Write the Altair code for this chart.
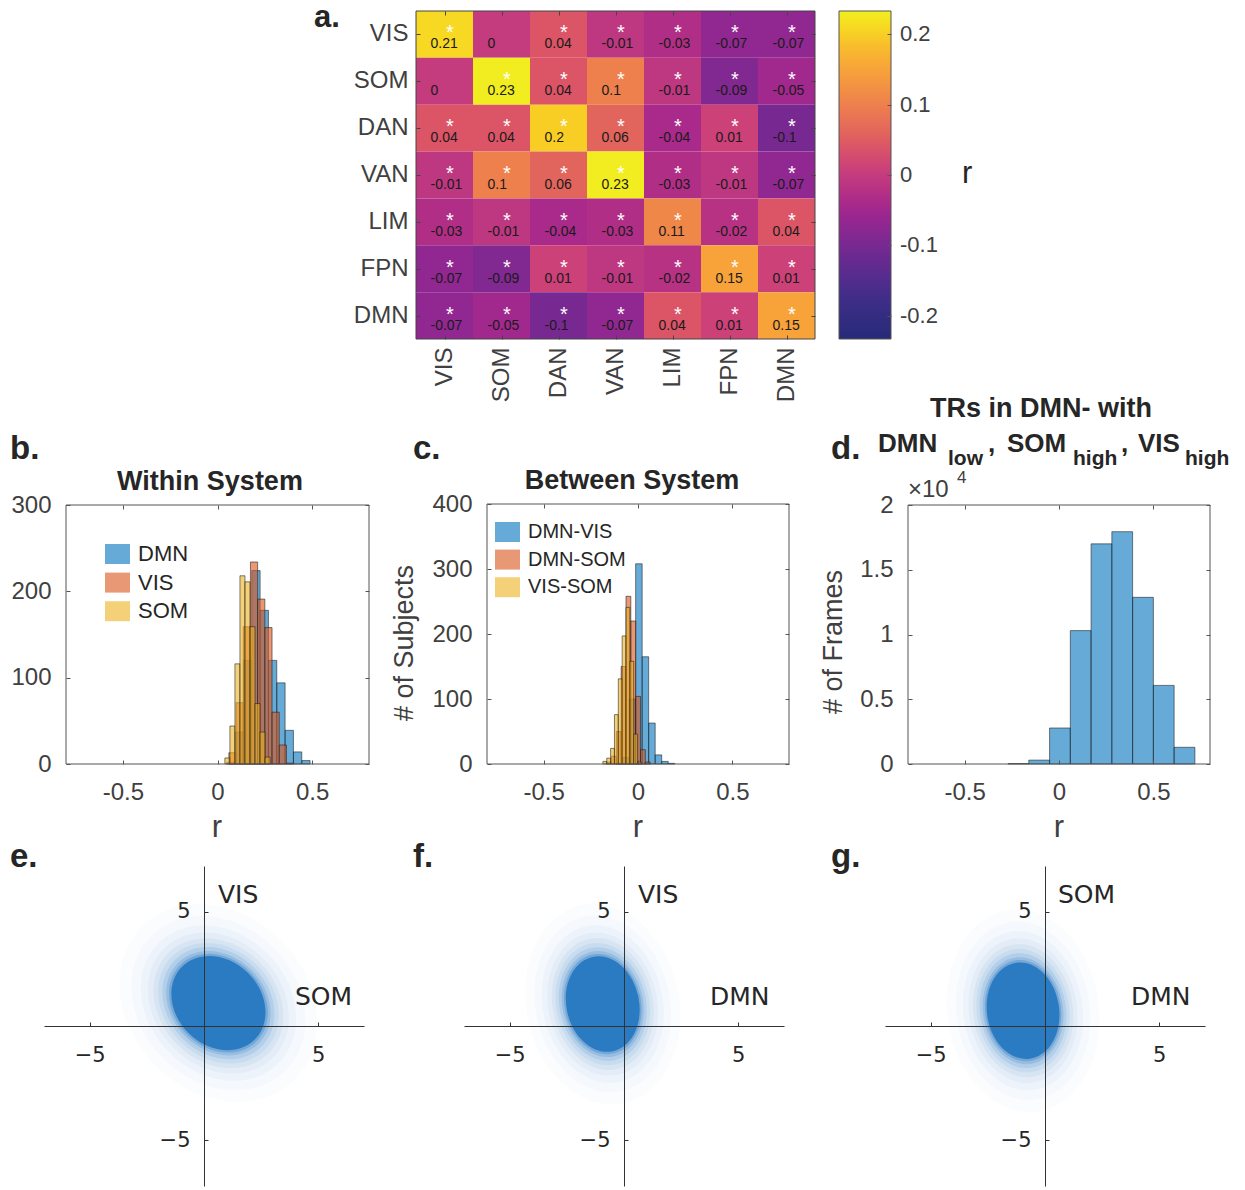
import altair as alt
import pandas as pd

W, H = 1245, 1190
FONT = "Liberation Sans"
SFONT = "DejaVu Sans"
TICK = "#404040"
INK = "#262626"

# ---------------- data ----------------
networks = ["VIS", "SOM", "DAN", "VAN", "LIM", "FPN", "DMN"]
corr_rows = [
    [0.21, 0.00, 0.04, -0.01, -0.03, -0.07, -0.07],
    [0.00, 0.23, 0.04, 0.10, -0.01, -0.09, -0.05],
    [0.04, 0.04, 0.20, 0.06, -0.04, 0.01, -0.10],
    [-0.01, 0.10, 0.06, 0.23, -0.03, -0.01, -0.07],
    [-0.03, -0.01, -0.04, -0.03, 0.11, -0.02, 0.04],
    [-0.07, -0.09, 0.01, -0.01, -0.02, 0.15, 0.01],
    [-0.07, -0.05, -0.10, -0.07, 0.04, 0.01, 0.15],
]
star_rows = [
    [1, 0, 1, 1, 1, 1, 1],
    [0, 1, 1, 1, 1, 1, 1],
    [1, 1, 1, 1, 1, 1, 1],
    [1, 1, 1, 1, 1, 1, 1],
    [1, 1, 1, 1, 1, 1, 1],
    [1, 1, 1, 1, 1, 1, 1],
    [1, 1, 1, 1, 1, 1, 1],
]
colorbar_ticks = [-0.2, -0.1, 0, 0.1, 0.2]
colorbar_limit = 0.2333
cmap_stops = [-0.2333, -0.175, -0.1167, -0.0583, 0.0, 0.0583, 0.1167, 0.175, 0.2333]
cmap_colors = ["#262a78", "#3f2d88", "#6a2a90", "#9a2690", "#c43c7e",
               "#e0645e", "#f08c46", "#f8b530", "#f0f021"]

within_names = ["DMN", "VIS", "SOM"]
within_start = [0.049, 0.060, 0.039]
within_width = [0.044, 0.038, 0.0265]
within_counts = [
    [2, 37, 120, 224, 178, 120, 94, 39, 14, 4],
    [13, 71, 159, 234, 191, 158, 60, 22, 1],
    [7, 44, 116, 218, 211, 159, 70, 37, 8],
]

between_names = ["DMN-VIS", "DMN-SOM", "VIS-SOM"]
between_start = [-0.116, -0.166, -0.186]
between_width = [0.0345, 0.0256, 0.0204]
between_counts = [
    [1, 10, 100, 308, 165, 63, 14, 4, 1],
    [3, 12, 50, 150, 258, 220, 104, 22, 3],
    [4, 9, 24, 76, 131, 197, 241, 158, 46, 3],
]

frames_start = -0.27
frames_width = 0.11
frames_counts = [30, 300, 2780, 10300, 17000, 17940, 12870, 6070, 1290]

# scatter clouds: centre (x, y), semi-axes (a, b), tilt in degrees
cloud_cx = [0.63, -0.93, -0.96]
cloud_cy = [1.00, 0.96, 0.67]
cloud_a = [2.25, 2.11, 2.12]
cloud_b = [1.85, 1.59, 1.58]
cloud_tilt = [45, 78, 82]
cloud_xname = ["SOM", "DMN", "DMN"]
cloud_yname = ["VIS", "VIS", "SOM"]
halo_scale = [2.1, 1.85, 1.65, 1.5, 1.38, 1.28, 1.19, 1.11, 1.05, 1.0]
halo_alpha = [0.02, 0.026, 0.037, 0.044, 0.068, 0.085, 0.133, 0.2, 0.327, 1.0]

MAT_COLORS = ["#0072BD", "#D95319", "#EDB120"]

# ---------------- helpers ----------------
one = pd.DataFrame({"k": [0]})


def txt(s, x, y, size=24, weight="normal", align="left", baseline="alphabetic",
        angle=0, color=INK, font=FONT):
    return alt.Chart(one).mark_text(
        text=s, fontSize=size, fontWeight=weight, align=align, baseline=baseline,
        angle=angle, color=color, font=font,
    ).encode(x=alt.value(x), y=alt.value(y))


def tick_axis(orient, offset, values, color):
    return alt.Axis(orient=orient, offset=offset, values=values, labels=False, domain=False,
                    ticks=True, tickSize=4, tickColor=color, grid=False, title=None, zindex=1)


def frame(xr, yr, xdom, ydom, xt, yt, color="#555555"):
    fd = pd.DataFrame({"x0": [xdom[0]], "x1": [xdom[1]], "y0": [ydom[0]], "y1": [ydom[1]]})
    xs = alt.Scale(domain=xdom, range=xr, nice=False, zero=False)
    ys = alt.Scale(domain=ydom, range=yr, nice=False, zero=False)
    box = alt.Chart(fd).mark_rect(filled=False, color=color, strokeWidth=1).encode(
        x=alt.X("x0:Q", scale=xs, axis=tick_axis("top", -yr[0], xt, color)),
        x2="x1:Q",
        y=alt.Y("y0:Q", scale=ys, axis=tick_axis("right", xr[0] - W, yt, color)),
        y2="y1:Q",
    )
    ghost = alt.Chart(fd).mark_rect(opacity=0).encode(
        x=alt.X("x0:Q", scale=xs, axis=tick_axis("bottom", yr[1] - H, xt, color)),
        x2="x1:Q",
        y=alt.Y("y0:Q", scale=ys, axis=tick_axis("left", -xr[1], yt, color)),
        y2="y1:Q",
    )
    return [box, ghost]


def bins_df(names, starts, widths, counts):
    rows = []
    for n, s, w, cs in zip(names, starts, widths, counts):
        for k, c in enumerate(cs):
            rows.append({"series": n, "x0": s + k * w, "x1": s + (k + 1) * w, "count": c})
    return pd.DataFrame(rows)


def hist(df, xr, yr, ymax, yvals, ylab_expr="toString(datum.value)", color=None):
    x = alt.X("x0:Q", scale=alt.Scale(domain=[-0.8, 0.8], range=xr, nice=False, zero=False),
              axis=alt.Axis(orient="bottom", offset=yr[0] - H, values=[-0.5, 0, 0.5],
                            labelExpr="toString(datum.value)", domain=False, ticks=False,
                            tickSize=0, grid=False, labelFontSize=24, labelFont=FONT,
                            labelColor=TICK, labelPadding=16, labelFlush=False, title=None))
    y = alt.Y("count:Q", scale=alt.Scale(domain=[0, ymax], range=yr, nice=False, zero=True),
              axis=alt.Axis(orient="left", offset=-xr[0], values=yvals, labelExpr=ylab_expr,
                            domain=False, ticks=False, tickSize=0, grid=False,
                            labelFontSize=24, labelFont=FONT, labelColor=TICK,
                            labelPadding=15, labelFlush=False, title=None))
    enc = dict(x=x, x2="x1:Q", y=y, y2=alt.datum(0))
    if color is not None:
        enc["color"] = color
        mark = alt.Chart(df).mark_rect(fillOpacity=0.6, stroke="#1a1a1a", strokeOpacity=0.55,
                                       strokeWidth=1)
    else:
        mark = alt.Chart(df).mark_rect(fillOpacity=0.6, fill=MAT_COLORS[0], stroke="#1a1a1a",
                                       strokeOpacity=0.55, strokeWidth=1)
    return mark.encode(**enc)


RECT_PATH = "M-1,-0.8H1V0.8H-1Z"


def legend(x, y, size):
    return alt.Legend(orient="none", legendX=x, legendY=y, title=None, direction="vertical",
                      symbolType=RECT_PATH, symbolSize=625, symbolOpacity=0.6,
                      symbolStrokeWidth=0, labelFontSize=size, labelFont=FONT,
                      labelColor=INK, labelOffset=8, rowPadding=4.6, padding=0)


def ellipse_path(r):
    c = 0.5523
    return (f"M1,0 C1,{c*r:.4f} {c:.4f},{r:.4f} 0,{r:.4f} "
            f"C{-c:.4f},{r:.4f} -1,{c*r:.4f} -1,0 "
            f"C-1,{-c*r:.4f} {-c:.4f},{-r:.4f} 0,{-r:.4f} "
            f"C{c:.4f},{-r:.4f} 1,{-c*r:.4f} 1,0 Z")


def scatter(i, xr, yr=(1186, 866)):
    ppu = (xr[1] - xr[0]) / 14.0
    rows = []
    for s, op in zip(halo_scale, halo_alpha):
        rows.append({"cx": cloud_cx[i], "cy": cloud_cy[i],
                     "sz": (2 * cloud_a[i] * s * ppu) ** 2, "op": op})
    df = pd.DataFrame(rows)
    x0 = (xr[0] + xr[1]) / 2
    y0 = (yr[0] + yr[1]) / 2
    xs = alt.Scale(domain=[-7, 7], range=list(xr), nice=False, zero=False)
    ys = alt.Scale(domain=[-7, 7], range=list(yr), nice=False, zero=False)
    xa = alt.Axis(orient="bottom", offset=y0 - H, values=[-5, 5], domain=True,
                  domainColor="#333333", ticks=False, tickSize=0,
                  grid=False, labelFontSize=21, labelFont=SFONT, labelColor=INK,
                  labelPadding=18, labelFlush=False, title=None, zindex=1)
    ya = alt.Axis(orient="left", offset=-x0, values=[-5, 5], domain=True,
                  domainColor="#333333", ticks=False, tickSize=0,
                  grid=False, labelFontSize=21, labelFont=SFONT, labelColor=INK,
                  labelPadding=14, labelFlush=False, title=None, zindex=1)
    cloud = alt.Chart(df).mark_point(
        filled=True, shape=ellipse_path(cloud_b[i] / cloud_a[i]), angle=cloud_tilt[i],
        color="#2a7bc1", strokeWidth=0,
    ).encode(
        x=alt.X("cx:Q", scale=xs, axis=xa),
        y=alt.Y("cy:Q", scale=ys, axis=ya),
        size=alt.Size("sz:Q", scale=None),
        opacity=alt.Opacity("op:Q", scale=None),
    )
    ticks = alt.Chart(df).mark_point(opacity=0).encode(
        x=alt.X("cx:Q", scale=xs, axis=tick_axis("top", -y0, [-5, 5], "#333333")),
        y=alt.Y("cy:Q", scale=ys, axis=tick_axis("right", x0 - W, [-5, 5], "#333333")),
    )
    return [cloud, ticks]


# ---------------- panel a: heatmap ----------------
hm = []
for i, r in enumerate(networks):
    for j, c in enumerate(networks):
        v = corr_rows[i][j]
        hm.append({"row": r, "col": c, "v": v, "lab": f"{v:g}",
                   "star": "*" if star_rows[i][j] else ""})
hm_df = pd.DataFrame(hm)

hx = alt.X("col:N", scale=alt.Scale(domain=networks, range=[416, 815], paddingInner=0, paddingOuter=0),
           axis=alt.Axis(orient="bottom", offset=339 - H, labelAngle=270, labelFontSize=24,
                         labelFont=FONT, labelColor=TICK, labelPadding=8, ticks=False,
                         tickSize=0, domain=False, title=None))
hy = alt.Y("row:N", scale=alt.Scale(domain=networks, range=[11, 339], paddingInner=0, paddingOuter=0),
           axis=alt.Axis(orient="left", offset=-416, labelFontSize=24, labelFont=FONT,
                         labelColor=TICK, labelPadding=8, ticks=False, tickSize=0,
                         domain=False, title=None))
cells = alt.Chart(hm_df).mark_rect().encode(
    x=hx, y=hy,
    color=alt.Color("v:Q", scale=alt.Scale(domain=cmap_stops, range=cmap_colors),
                    legend=alt.Legend(orient="none", legendX=839, legendY=11, direction="vertical",
                                      gradientLength=328, gradientThickness=52, title=None,
                                      values=colorbar_ticks, labelExpr="toString(datum.value)",
                                      labelFontSize=22, labelFont=FONT, labelColor=TICK,
                                      labelOffset=9, gradientStrokeColor="#555555",
                                      gradientStrokeWidth=1, padding=0)),
)
stars = alt.Chart(hm_df).mark_text(color="white", fontSize=20, dx=5.5, dy=-1, font=FONT,
                                   baseline="middle").encode(x=hx, y=hy, text="star:N")
nums = alt.Chart(hm_df).mark_text(color="#1a1a1a", fontSize=14, dx=-14, dy=10, align="left",
                                  baseline="middle", font=FONT).encode(x=hx, y=hy, text="lab:N")
heat = alt.layer(cells, stars, nums)

# colour bar tick marks (inside right edge)
cb_df = pd.DataFrame({"y0": [-colorbar_limit], "y1": [colorbar_limit]})
cb_ticks = alt.Chart(cb_df).mark_rect(opacity=0).encode(
    y=alt.Y("y0:Q", scale=alt.Scale(domain=[-colorbar_limit, colorbar_limit], range=[339, 11],
                                    nice=False, zero=False),
            axis=tick_axis("left", -891, colorbar_ticks, "#555555")),
    y2="y1:Q",
    x=alt.value(839), x2=alt.value(891),
)

# ---------------- panels b, c, d ----------------
b_df = bins_df(within_names, within_start, within_width, within_counts)
c_df = bins_df(between_names, between_start, between_width, between_counts)
d_df = bins_df(["frames"], [frames_start], [frames_width], [frames_counts])

b_chart = hist(b_df, [66, 369], [764, 505], 300, [0, 100, 200, 300],
               color=alt.Color("series:N", scale=alt.Scale(domain=within_names, range=MAT_COLORS),
                               legend=legend(105, 541.5, 22)))
c_chart = hist(c_df, [487, 789], [764, 504], 400, [0, 100, 200, 300, 400],
               color=alt.Color("series:N", scale=alt.Scale(domain=between_names, range=MAT_COLORS),
                               legend=legend(495, 519.5, 20)))
d_chart = hist(d_df, [908, 1210], [764, 505], 20000, [0, 5000, 10000, 15000, 20000],
               ylab_expr="toString(datum.value / 10000)")

hx_ticks = [0.5, 1.5, 2.5, 3.5, 4.5, 5.5, 6.5]

texts = [
    txt("a.", 314, 27, size=31, weight="bold"),
    txt("b.", 10, 459, size=33, weight="bold"),
    txt("c.", 413, 459, size=33, weight="bold"),
    txt("d.", 831, 459, size=33, weight="bold"),
    txt("e.", 10, 867, size=33, weight="bold"),
    txt("f.", 413, 867, size=33, weight="bold"),
    txt("g.", 831, 867, size=33, weight="bold"),
    txt("r", 962, 183, size=31, color=INK),
    txt("Within System", 210, 490, size=27, weight="bold", align="center"),
    txt("Between System", 632, 489, size=27, weight="bold", align="center"),
    txt("TRs in DMN- with", 1041, 417, size=27, weight="bold", align="center"),
    txt("DMN", 878, 452, size=26, weight="bold"),
    txt("low", 948, 465, size=21, weight="bold"),
    txt(",", 988, 452, size=26, weight="bold"),
    txt("SOM", 1007, 452, size=26, weight="bold"),
    txt("high", 1073, 465, size=21, weight="bold"),
    txt(",", 1121, 452, size=26, weight="bold"),
    txt("VIS", 1138, 452, size=26, weight="bold"),
    txt("high", 1185, 465, size=21, weight="bold"),
    txt("\u00d710", 908, 497, size=24, color=TICK),
    txt("4", 957, 483, size=17, color=TICK),
    txt("r", 217, 837, size=31, align="center", color=TICK),
    txt("r", 638, 837, size=31, align="center", color=TICK),
    txt("r", 1059, 837, size=31, align="center", color=TICK),
    txt("# of Subjects", 405, 643, size=27, align="center", baseline="middle", angle=270, color=TICK),
    txt("# of Frames", 834, 642, size=27, align="center", baseline="middle", angle=270, color=TICK),
    txt(cloud_yname[0], 218, 903, size=25, font=SFONT),
    txt(cloud_xname[0], 295, 1005, size=25, font=SFONT),
    txt(cloud_yname[1], 638, 903, size=25, font=SFONT),
    txt(cloud_xname[1], 710, 1005, size=25, font=SFONT),
    txt(cloud_yname[2], 1058, 903, size=25, font=SFONT),
    txt(cloud_xname[2], 1131, 1005, size=25, font=SFONT),
]

layers = (
    [heat]
    + frame([416, 815], [339, 11], [0, 7], [0, 7], hx_ticks, hx_ticks, "#444444")
    + [cb_ticks]
    + [b_chart] + frame([66, 369], [764, 505], [-0.8, 0.8], [0, 300], [-0.5, 0, 0.5], [0, 100, 200, 300])
    + [c_chart] + frame([487, 789], [764, 504], [-0.8, 0.8], [0, 400], [-0.5, 0, 0.5], [0, 100, 200, 300, 400])
    + [d_chart] + frame([908, 1210], [764, 505], [-0.8, 0.8], [0, 20000], [-0.5, 0, 0.5],
                        [0, 5000, 10000, 15000, 20000])
    + scatter(0, (44, 364)) + scatter(1, (464, 784)) + scatter(2, (885, 1205))
    + texts
)

chart = alt.layer(*layers).resolve_scale(
    x="independent", y="independent", color="independent",
).properties(
    width=W, height=H, autosize=alt.AutoSizeParams(type="none"), padding=0, background="white",
).configure_view(stroke="transparent")

chart.save("out.html", embed_options={"renderer": "svg", "actions": False})
